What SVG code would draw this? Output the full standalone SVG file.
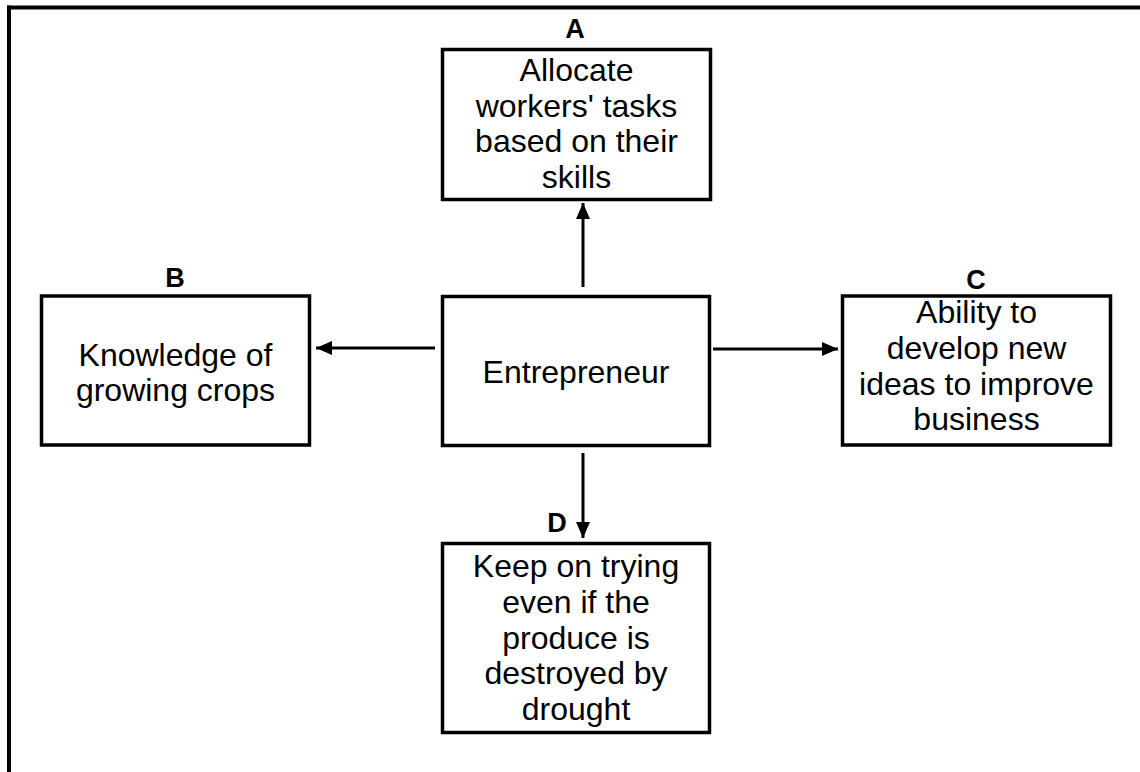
<svg xmlns="http://www.w3.org/2000/svg" width="1140" height="772" viewBox="0 0 1140 772">
<style>
.box{fill:#fff;stroke:#000;stroke-width:3.5}
.t{font-family:"Liberation Sans",Arial,sans-serif;font-size:32px;fill:#000;text-anchor:middle}
.lbl{font-family:"Liberation Sans",Arial,sans-serif;font-size:27px;font-weight:bold;fill:#000;text-anchor:middle}
.c{stroke:#000;stroke-width:3;fill:none;marker-end:url(#ah)}
</style>
<defs>
<marker id="ah" markerUnits="userSpaceOnUse" markerWidth="17" markerHeight="14" refX="16" refY="7" orient="auto">
<path d="M0,0 L16,7 L0,14 z" fill="#000"/>
</marker>
</defs>
<rect width="1140" height="772" fill="#fff"/>
<g id="frame">
<line x1="7" y1="7.5" x2="1140" y2="7.5" stroke="#000" stroke-width="4"/>
<line x1="9" y1="5.5" x2="9" y2="772" stroke="#000" stroke-width="4"/>
</g>
<g id="connectors">
<line class="c" x1="583" y1="287" x2="583" y2="203"/>
<line class="c" x1="435" y1="348" x2="316" y2="348"/>
<line class="c" x1="713" y1="349" x2="838" y2="349"/>
<line class="c" x1="583" y1="453" x2="583" y2="538"/>
</g>
<g id="nodeA">
<text class="lbl" x="575" y="38">A</text>
<rect class="box" x="442.5" y="49.5" width="268" height="150"/>
<text class="t" x="576.5" y="81">Allocate</text>
<text class="t" x="576.5" y="117">workers' tasks</text>
<text class="t" x="576.5" y="152">based on their</text>
<text class="t" x="576.5" y="188">skills</text>
</g>
<g id="nodeB">
<text class="lbl" x="175" y="287">B</text>
<rect class="box" x="41.5" y="296" width="268" height="149"/>
<text class="t" x="175.5" y="366">Knowledge of</text>
<text class="t" x="175.5" y="401">growing crops</text>
</g>
<g id="nodeE">
<rect class="box" x="442.5" y="296.5" width="267" height="149"/>
<text class="t" x="576" y="383">Entrepreneur</text>
</g>
<g id="nodeC">
<text class="lbl" x="976" y="289">C</text>
<rect class="box" x="842.5" y="296" width="268" height="149"/>
<text class="t" x="976.5" y="323">Ability to</text>
<text class="t" x="976.5" y="359">develop new</text>
<text class="t" x="976.5" y="395">ideas to improve</text>
<text class="t" x="976.5" y="430">business</text>
</g>
<g id="nodeD">
<text class="lbl" x="557" y="532">D</text>
<rect class="box" x="442.5" y="543.5" width="267" height="189"/>
<text class="t" x="576" y="577">Keep on trying</text>
<text class="t" x="576" y="613">even if the</text>
<text class="t" x="576" y="649">produce is</text>
<text class="t" x="576" y="684">destroyed by</text>
<text class="t" x="576" y="720">drought</text>
</g>
</svg>
